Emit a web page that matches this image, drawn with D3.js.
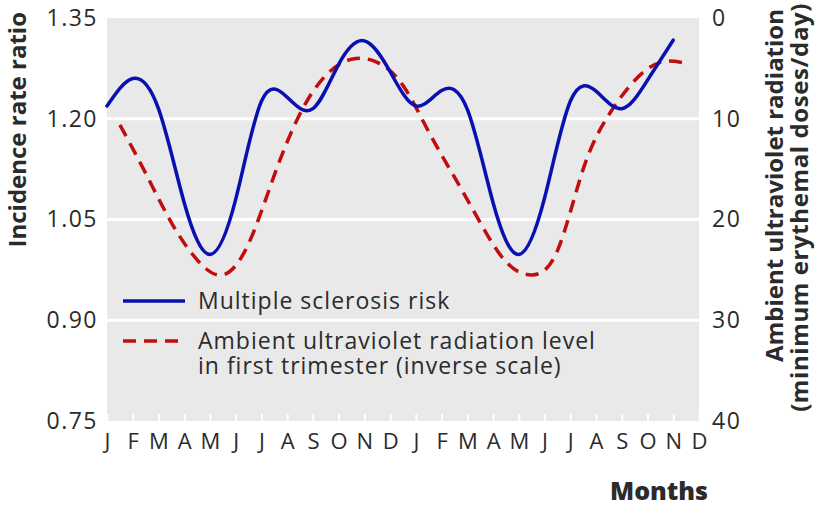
<!DOCTYPE html>
<html>
<head>
<meta charset="utf-8">
<script src="https://cdn.jsdelivr.net/npm/d3@7"></script>
<style>
  html, body { margin: 0; padding: 0; background: #fff; }
  svg { display: block; }
  text { font-family: "Open Sans", "Noto Sans", sans-serif; fill: #2b2b2b; }
</style>
</head>
<body>
<svg id="chart" width="820" height="508"></svg>
<script>
// ---- data ----
const monthLabels = ["J","F","M","A","M","J","J","A","S","O","N","D",
                     "J","F","M","A","M","J","J","A","S","O","N","D"];
const msMonthPos = [0,1,2,3,4,5,6,7,8,9,10,11,12,13,14,15,16,17,18,19,20,21,22];
const msRisk = [1.219, 1.26, 1.215, 1.075, 0.998, 1.08, 1.226, 1.232, 1.215, 1.281, 1.316, 1.27,
                1.219, 1.242, 1.214, 1.075, 0.998, 1.082, 1.226, 1.241, 1.215, 1.2575, 1.317];
const uvMonthPos = [0.5,1.5,2.5,3.5,4.5,5.5,6.5,7.5,8.5,9.5,10.5,11.5,
                    12.5,13.5,14.5,15.5,16.5,17.5,18.5,19.5,20.5,21.5,22.5];
const uvLevel = [10.6, 15.4, 20.3, 24.0, 25.5, 22.4, 15.6, 9.5, 5.7, 4.1, 4.4, 6.7,
                 11.3, 15.8, 20.3, 24.2, 25.5, 23.1, 15.0, 9.6, 6.2, 4.4, 4.5];
const leftTicks = [0.75, 0.90, 1.05, 1.20, 1.35];
const rightTicks = [0, 10, 20, 30, 40];
const legendLabels = ["Multiple sclerosis risk",
                      ["Ambient ultraviolet radiation level", "in first trimester (inverse scale)"]];

// ---- layout ----
const svg = d3.select("#chart");
const L = 107, R = 699, T = 18, B = 421;
const blue = "#0a0fb0", red = "#c00d0d";

const x = d3.scaleLinear().domain([0, 23]).range([L, R]);
const yL = d3.scaleLinear().domain([0.75, 1.35]).range([B, T]);
const yR = d3.scaleLinear().domain([0, 40]).range([T, B]);

// background
svg.append("rect").attr("x", L).attr("y", T).attr("width", R - L).attr("height", B - T)
  .attr("fill", "#e9e9e9");

// gridlines
svg.append("g").selectAll("line").data(leftTicks.slice(1, -1)).join("line")
  .attr("x1", L).attr("x2", R).attr("y1", d => yL(d)).attr("y2", d => yL(d))
  .attr("stroke", "#fff").attr("stroke-width", 3);

// bottom axis (white ticks inside)
const xAxis = svg.append("g").attr("transform", `translate(0,${B})`)
  .call(d3.axisBottom(x).tickValues(d3.range(monthLabels.length))
    .tickFormat((d, i) => monthLabels[i]).tickSizeInner(-7).tickSizeOuter(0).tickPadding(12));
xAxis.select(".domain").remove();
xAxis.selectAll(".tick line").attr("stroke", "#fff").attr("stroke-width", 2);
xAxis.selectAll("text").style("font-size", "22px").attr("fill", "#2b2b2b");

// left axis
const yAxisL = svg.append("g").attr("transform", `translate(${L},0)`)
  .call(d3.axisLeft(yL).tickValues(leftTicks).tickFormat(d3.format(".2f")).tickSize(0).tickPadding(9));
yAxisL.select(".domain").remove();
yAxisL.selectAll("text").style("font-size", "23px").style("letter-spacing", "1.5px").attr("fill", "#2b2b2b");

// right axis
const yAxisR = svg.append("g").attr("transform", `translate(${R},0)`)
  .call(d3.axisRight(yR).tickValues(rightTicks).tickSize(0).tickPadding(13));
yAxisR.select(".domain").remove();
yAxisR.selectAll("text").style("font-size", "23px").style("letter-spacing", "1.5px").attr("fill", "#2b2b2b");

// lines
const msLine = d3.line().x((d, i) => x(msMonthPos[i])).y(d => yL(d)).curve(d3.curveNatural);
const uvLine = d3.line().x((d, i) => x(uvMonthPos[i])).y(d => yR(d)).curve(d3.curveNatural);

svg.append("path").datum(uvLevel).attr("d", uvLine).attr("fill", "none")
  .attr("stroke", red).attr("stroke-width", 3.5).attr("stroke-dasharray", "13,8");
svg.append("path").datum(msRisk).attr("d", msLine).attr("fill", "none")
  .attr("stroke", blue).attr("stroke-width", 3.5).attr("stroke-linecap", "round");

// legend
const lg = svg.append("g");
lg.append("line").attr("x1", 123).attr("x2", 185).attr("y1", 301).attr("y2", 301)
  .attr("stroke", blue).attr("stroke-width", 3.5);
lg.append("line").attr("x1", 123).attr("x2", 186).attr("y1", 341).attr("y2", 341)
  .attr("stroke", red).attr("stroke-width", 3.5).attr("stroke-dasharray", "13,8");
lg.append("text").attr("x", 198).attr("y", 309).style("font-size", "23px").style("letter-spacing", "1px").text(legendLabels[0]);
const t2 = lg.append("text").attr("x", 198).attr("y", 349).style("font-size", "23px").style("letter-spacing", "1px");
t2.append("tspan").attr("x", 198).attr("dy", 0).text(legendLabels[1][0]);
t2.append("tspan").attr("x", 198).attr("dy", 25).text(legendLabels[1][1]);

// axis titles
svg.append("text").attr("transform", "translate(26,12) rotate(-90)")
  .attr("text-anchor", "end").style("font-size", "24px").style("font-weight", "700")
  .text("Incidence rate ratio");
svg.append("text").attr("transform", "translate(783,9) rotate(-90)")
  .attr("text-anchor", "end").style("font-size", "24px").style("font-weight", "700")
  .text("Ambient ultraviolet radiation");
svg.append("text").attr("transform", "translate(808,3) rotate(-90)")
  .attr("text-anchor", "end").style("font-size", "24px").style("font-weight", "700").style("letter-spacing", "0.6px")
  .text("(minimum erythemal doses/day)");
svg.append("text").attr("x", 708).attr("y", 500).attr("text-anchor", "end")
  .style("font-size", "25px").style("font-weight", "800")
  .text("Months");
</script>
</body>
</html>
